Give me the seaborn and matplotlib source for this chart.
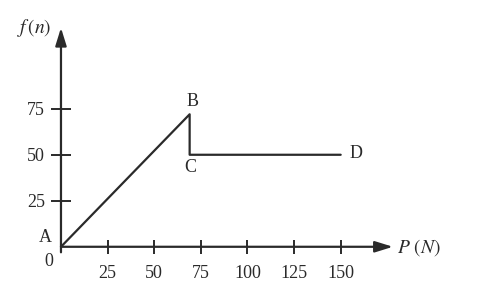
import matplotlib
matplotlib.use("Agg")
import matplotlib.pyplot as plt
import seaborn as sns
import pandas as pd

# Data
p_force = [0, 69, 69, 150]
friction = [0, 72, 50, 50]
point_labels = ["A", "B", "C", "D"]
x_ticks = [25, 50, 75, 100, 125, 150]
y_ticks = [25, 50, 75]

sns.set_theme(style="white")
plt.rcParams["font.family"] = ["Liberation Serif", "DejaVu Serif"]
plt.rcParams["mathtext.fontset"] = "stix"

ink = "#2a2a2a"
df = pd.DataFrame({"P": p_force, "f": friction})

fig = plt.figure(figsize=(4.99, 2.95), dpi=100)
ax = fig.add_axes([0, 0, 1, 1])
ax.set_xlim(-32.7, 234.9)
ax.set_ylim(-26.2, 134.1)

sns.lineplot(data=df, x="P", y="f", sort=False, color=ink, linewidth=1.6, ax=ax,
             estimator=None)

# axes as arrows
for s in ax.spines.values():
    s.set_visible(False)
ax.spines["left"].set_position(("data", 0))
ax.spines["bottom"].set_position(("data", 0))
ax.annotate("", xy=(0, 119), xytext=(0, -3),
            arrowprops=dict(arrowstyle="-|>,head_length=0.9,head_width=0.28",
                            color=ink, lw=1.6, shrinkA=0, shrinkB=0))
ax.annotate("", xy=(178, 0), xytext=(0, 0),
            arrowprops=dict(arrowstyle="-|>,head_length=0.9,head_width=0.28",
                            color=ink, lw=1.6, shrinkA=0, shrinkB=0))

ax.set_xticks(x_ticks)
ax.set_yticks(y_ticks)
ax.set_xticklabels([str(t) for t in x_ticks])
ax.set_yticklabels([str(t) for t in y_ticks])
ax.tick_params(axis="both", direction="inout", width=1.4, color=ink,
               labelsize=13, labelcolor=ink)
ax.tick_params(axis="x", length=9.4, pad=8.5, bottom=True)
ax.tick_params(axis="y", length=13.7, pad=4.5, left=True)
ax.set_xlabel("")
ax.set_ylabel("")

# origin label
ax.annotate("0", xy=(0, 0), xytext=(-12, -15), textcoords="offset pixels",
            ha="center", va="center", fontsize=13, color=ink)

offsets = {"A": (-16, 9), "B": (3, 13), "C": (1, -13), "D": (15, 1)}
for x, y, lab in zip(p_force, friction, point_labels):
    dx, dy = offsets[lab]
    ax.annotate(lab, xy=(x, y), xytext=(dx, dy), textcoords="offset pixels",
                ha="center", va="center", fontsize=13, color=ink)

ax.annotate(r"$f\,(n)$", xy=(0, 119), xytext=(-27, 0), textcoords="offset pixels",
            ha="center", va="center", fontsize=14, color=ink)
ax.annotate(r"$P\ (N)$", xy=(178, 0), xytext=(26, -1), textcoords="offset pixels",
            ha="center", va="center", fontsize=14, color=ink)

fig.savefig("out.png", dpi=100)
